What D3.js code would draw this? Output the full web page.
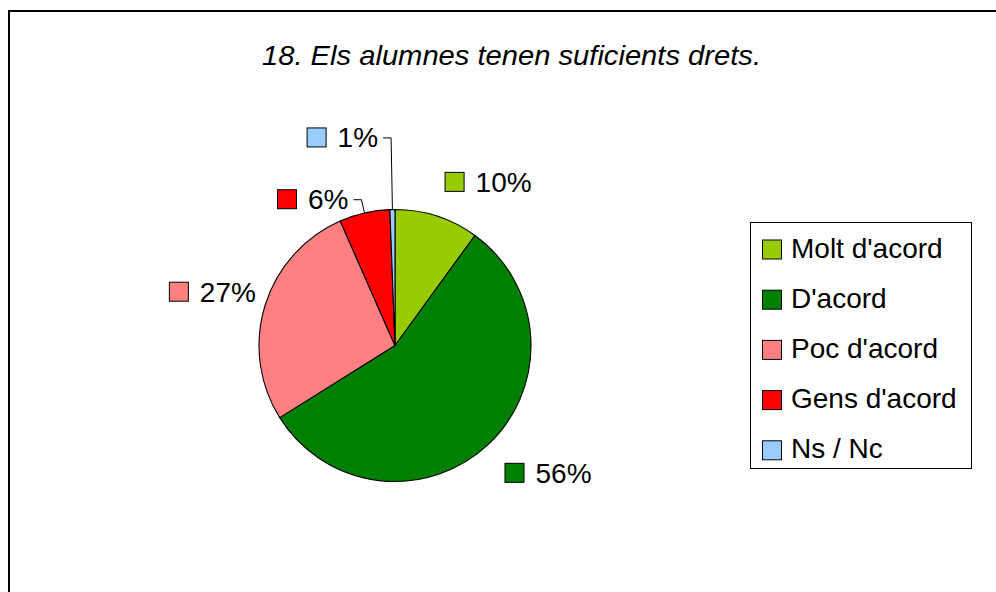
<!DOCTYPE html>
<html>
<head>
<meta charset="utf-8">
<script src="https://cdn.jsdelivr.net/npm/d3@7"></script>
<style>
  html, body { margin: 0; padding: 0; background: #fff; }
  svg { display: block; }
  text { font-family: "Liberation Sans", Arial, sans-serif; fill: #000; }
</style>
</head>
<body>
<svg id="chart" width="996" height="592"></svg>
<script>
// ---- data ----
const title = "18. Els alumnes tenen suficients drets.";
const categories = ["Molt d'acord", "D'acord", "Poc d'acord", "Gens d'acord", "Ns / Nc"];
const values = [10.0, 56.1, 27.3, 6.0, 0.6];
const colors = ["#99CC00", "#008000", "#FF8080", "#FF0000", "#99CCFF"];

// ---- layout ----
const W = 996, H = 592;
const cx = 395, cy = 345.5, r = 136;
const fontSize = 28;
const sq = 20;

const svg = d3.select("#chart");

// outer chart border (right/bottom edges are outside the window)
svg.append("rect")
  .attr("x", 9).attr("y", 11)
  .attr("width", 1100).attr("height", 1000)
  .attr("fill", "none").attr("stroke", "#000").attr("stroke-width", 2);

// title
svg.append("text")
  .attr("x", 511.5).attr("y", 65)
  .attr("text-anchor", "middle")
  .attr("font-style", "italic")
  .attr("font-size", fontSize)
  .attr("textLength", 499)
  .attr("lengthAdjust", "spacingAndGlyphs")
  .text(title);

const data = categories.map((c, i) => ({ name: c, value: values[i], color: colors[i] }));
const total = d3.sum(values);

const pie = d3.pie().sort(null).value(d => d.value);
const arcs = pie(data);
const arc = d3.arc().innerRadius(0).outerRadius(r);

const g = svg.append("g").attr("transform", `translate(${cx},${cy})`);
g.selectAll("path.slice")
  .data(arcs)
  .join("path")
  .attr("class", "slice")
  .attr("d", arc)
  .attr("fill", d => d.data.color)
  .attr("stroke", "#000")
  .attr("stroke-width", 1.1)
  .attr("stroke-linejoin", "round");

// ---- data labels ----
const pct = d => Math.round(d.value / total * 100) + "%";
// measure text widths
const meas = svg.append("text").attr("font-size", fontSize).attr("visibility", "hidden");
function textW(s) { meas.text(s); return meas.node().getComputedTextLength(); }

const boxH = 21, gapSq = 11;
const placed = [];
function overlaps(b) {
  return placed.some(p => !(b.x1 < p.x0 || b.x0 > p.x1 || b.y1 < p.y0 - 40 || b.y0 > p.y1 + 40));
}

const labels = arcs.map(a => {
  const mid = (a.startAngle + a.endAngle) / 2;
  const s = Math.sin(mid), c = Math.cos(mid);
  const txt = pct(a.data);
  const tw = textW(txt);
  const w = sq + gapSq + tw;
  const frac = a.data.value / total;
  let L;
  if (frac >= 0.08) {
    // box corner attached to a point on the mid-angle ray
    const R = s > 0 ? r * 1.18 : r * 1.07;
    const ax = cx + R * s, ay = cy - R * c;
    const x0 = s > 0 ? ax : ax - w;
    const y0 = c > 0 ? ay - boxH : ay;
    L = { x0, y0, x1: x0 + w, y1: y0 + boxH, leader: null };
  } else {
    // small slice: label with leader line, pushed out along ray until free
    let R = r * 1.1;
    let b;
    for (let k = 0; k < 200; k++) {
      const ex = cx + R * s, ey = cy - R * c;
      const x1 = ex - 13, x0 = x1 - w;
      b = { x0, y0: ey - boxH / 2, x1, y1: ey + boxH / 2, ex, ey };
      if (!overlaps(b)) break;
      R += 2;
    }
    const px = cx + r * s, py = cy - r * c;
    b.leader = [[b.x1 + 5, b.ey], [b.ex, b.ey], [px, py]];
    L = b;
  }
  placed.push(L);
  return { a, txt, L };
});
meas.remove();

const lg = svg.append("g");
labels.forEach(({ a, txt, L }) => {
  if (L.leader) {
    lg.append("path")
      .attr("d", d3.line()(L.leader))
      .attr("fill", "none").attr("stroke", "#000").attr("stroke-width", 1);
  }
  lg.append("rect")
    .attr("x", L.x0 + 0.5).attr("y", L.y0 + 0.5)
    .attr("width", sq - 1).attr("height", sq - 1)
    .attr("fill", a.data.color).attr("stroke", "#000").attr("stroke-width", 1);
  lg.append("text")
    .attr("x", L.x0 + sq + gapSq).attr("y", L.y0 + 20)
    .attr("font-size", fontSize)
    .text(txt);
});

// ---- legend ----
const legX = 750, legY = 222, legW = 221, legH = 246;
svg.append("rect")
  .attr("x", legX + 0.5).attr("y", legY + 0.5)
  .attr("width", legW).attr("height", legH)
  .attr("fill", "#fff").attr("stroke", "#000").attr("stroke-width", 1);

const legItems = svg.append("g").selectAll("g")
  .data(data)
  .join("g")
  .attr("transform", (d, i) => `translate(${legX + 12},${legY + 17.5 + i * 50.2})`);
legItems.append("rect")
  .attr("x", 0.5).attr("y", 0.5)
  .attr("width", sq - 1).attr("height", sq - 1)
  .attr("fill", d => d.color).attr("stroke", "#000").attr("stroke-width", 1);
legItems.append("text")
  .attr("x", 29).attr("y", 18)
  .attr("font-size", fontSize)
  .text(d => d.name);
</script>
</body>
</html>
